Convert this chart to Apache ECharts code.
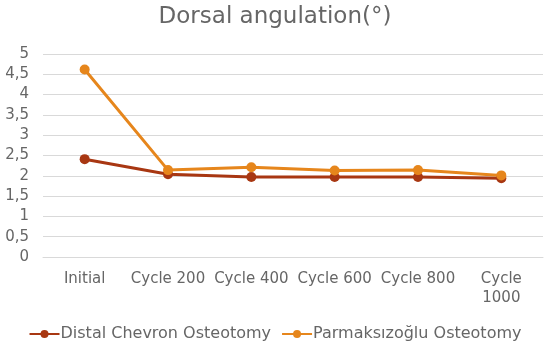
<!DOCTYPE html>
<html><head><meta charset="utf-8">
<script src="https://cdn.jsdelivr.net/npm/echarts@6/dist/echarts.min.js"></script>
<style>html,body{margin:0;padding:0;background:#fff}#c{width:550px;height:351px}</style>
</head><body><div id="c"></div>
<script>
const categories = ['Initial', 'Cycle 200', 'Cycle 400', 'Cycle 600', 'Cycle 800', 'Cycle\n1000'];
const distalChevron = [2.41, 2.04, 1.97, 1.97, 1.97, 1.94];
const parmaksizoglu = [4.62, 2.14, 2.21, 2.13, 2.14, 2.01];
const yTicks = [0, 0.5, 1, 1.5, 2, 2.5, 3, 3.5, 4, 4.5, 5];
const seriesNames = ['Distal Chevron Osteotomy', 'Parmaksızoğlu Osteotomy'];

const font = '"DejaVu Sans", sans-serif';
const chart = echarts.init(document.getElementById('c'));
chart.setOption({
  animation: false,
  title: { text: 'Dorsal angulation(°)', left: 'center', top: 1,
    textStyle: { fontFamily: font, fontSize: 23, fontWeight: 'normal', color: '#666666' } },
  grid: { left: 43, right: 7, top: 54, bottom: 94 },
  legend: { bottom: 4, left: 'center', itemWidth: 30, itemHeight: 10, itemGap: 10,
    textStyle: { fontFamily: font, fontSize: 16, color: '#666666', padding: [0,0,0,-4] },
    data: seriesNames },
  xAxis: { type: 'category', data: categories, boundaryGap: true,
    axisLine: { show: true, lineStyle: { color: '#d9d9d9' } }, axisTick: { show: false },
    axisLabel: { fontFamily: font, fontSize: 15, color: '#666666', margin: 13, interval: 0, lineHeight: 19 } },
  yAxis: { type: 'value', min: 0, max: 5, interval: 0.5,
    axisLine: { show: false }, axisTick: { show: false },
    splitLine: { lineStyle: { color: '#d9d9d9' } },
    axisLabel: { fontFamily: font, fontSize: 15, color: '#666666', margin: 14,
      formatter: v => String(yTicks.find(t => Math.abs(t - v) < 1e-9) ?? v).replace('.', ',') } },
  series: [
    { name: seriesNames[0], type: 'line', data: distalChevron, symbol: 'circle', symbolSize: 10,
      color: '#A83712', lineStyle: { width: 3 } },
    { name: seriesNames[1], type: 'line', data: parmaksizoglu, symbol: 'circle', symbolSize: 10,
      color: '#E6861C', lineStyle: { width: 3 } }
  ]
});
</script></body></html>
